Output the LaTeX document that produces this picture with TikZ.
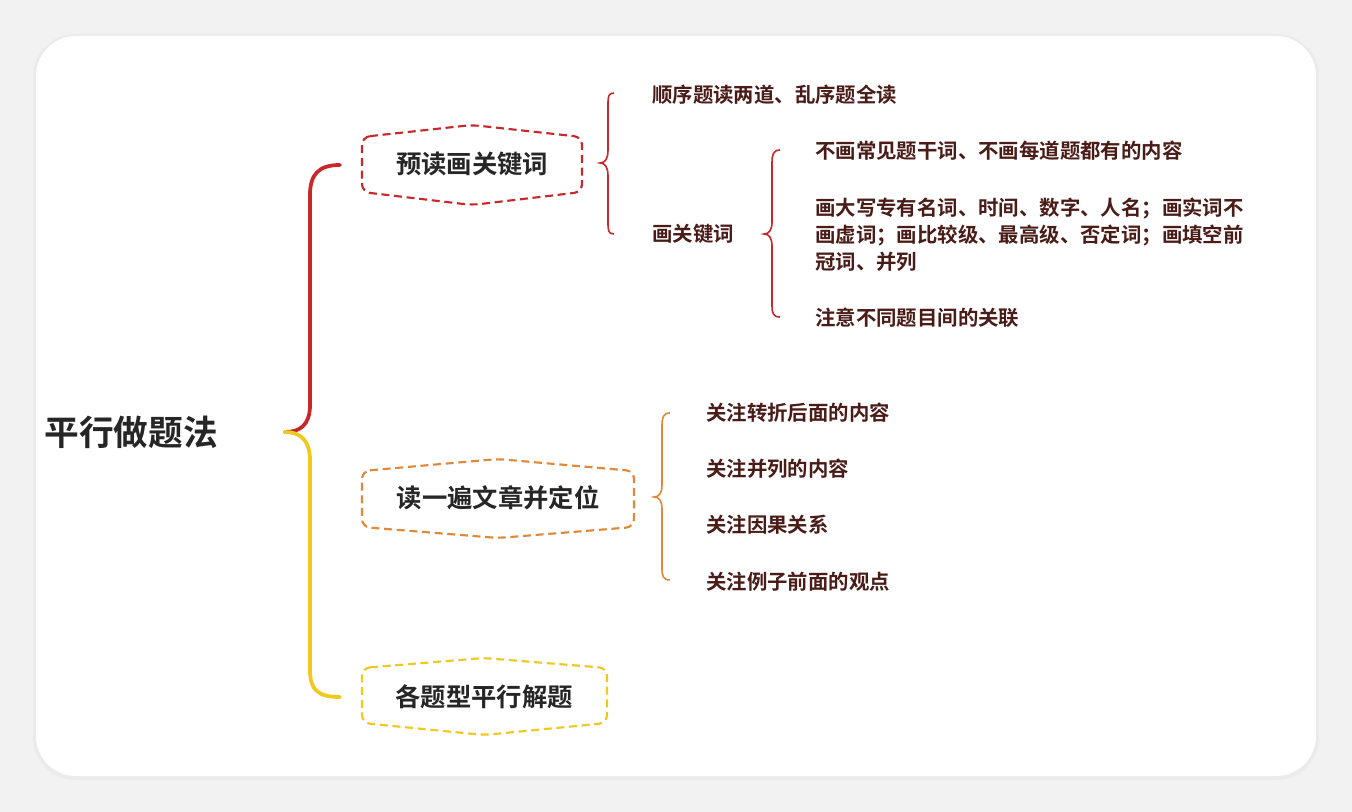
\documentclass[tikz,border=0pt]{standalone}
\usepackage{fontspec}
\setmainfont{Noto Sans CJK SC}
\newfontfamily\cjkb{Noto Sans CJK SC Bold}
\definecolor{cred}{HTML}{C8282A}
\definecolor{corange}{HTML}{E0883A}
\definecolor{cyellow}{HTML}{F0C81E}
\definecolor{ctext}{HTML}{4A1C18}
\begin{document}
\begin{tikzpicture}[x=0.75pt,y=-0.75pt,
  leaf/.style={anchor=west,inner sep=0pt,text=ctext,font=\cjkb\fontsize{15.3}{20.3}\selectfont,align=left},
  hexbox/.style={dashed,line width=1.6pt,dash pattern=on 6pt off 3.5pt,rounded corners=6pt},
  hextext/.style={font=\cjkb\fontsize{19}{22}\selectfont,text=black!85},
  brc/.style={line width=1.2pt},
  mainbr/.style={line width=2.8pt,line cap=round}]
\useasboundingbox (0,0) rectangle (1352,812);
\fill[gray!10] (0,0) rectangle (1352,812);
\fill[gray!16,rounded corners=32pt] (33,34) rectangle (1319,780);
\fill[white,rounded corners=30pt] (36,36) rectangle (1316,776);
% root
\node[font=\cjkb\fontsize{26}{30}\selectfont,text=black!85] (root) at (131,432) {平行做题法};
% main brace
\coordinate (mb) at (285,432);
\draw[mainbr,cred] (340,165) .. controls (318,165) and (310,175) .. (310,195) -- (310,405) .. controls (310,425) and (300,432) .. (mb);
\draw[mainbr,cyellow] (mb) .. controls (300,432) and (310,440) .. (310,460) -- (310,670) .. controls (310,690) and (318,697) .. (340,697);
% nodes
\draw[hexbox,cred] (362,137) -- (472,125) -- (582,137) -- (582,192) -- (472,205) -- (362,192) -- cycle;
\node[hextext] (n1) at (472,164) {预读画关键词};
\draw[hexbox,corange] (362,471) -- (498,459) -- (634,471) -- (634,527) -- (498,538) -- (362,527) -- cycle;
\node[hextext] (n2) at (498,498) {读一遍文章并定位};
\draw[hexbox,cyellow] (362,668) -- (484,658) -- (607,668) -- (607,723) -- (484,735) -- (362,723) -- cycle;
\node[hextext] (n3) at (484,697) {各题型平行解题};
% brace 1
\draw[brc,cred] (614,93) .. controls (608,93) and (608,97) .. (608,105) -- (608,150) .. controls (608,159) and (605,163) .. (600,163) .. controls (605,163) and (608,167) .. (608,176) -- (608,222) .. controls (608,230) and (608,234) .. (614,234);
\node[leaf] (a1) at (652,95) {顺序题读两道、乱序题全读};
\node[leaf] (a2) at (652,234) {画关键词};
% brace 2
\draw[brc,cred] (780,150) .. controls (773,150) and (772,155) .. (772,163) -- (772,222) .. controls (772,230) and (769,234) .. (764,234) .. controls (769,234) and (772,238) .. (772,246) -- (772,305) .. controls (772,313) and (773,317) .. (780,317);
\node[leaf] (b1) at (815,151) {不画常见题干词、不画每道题都有的内容};
\node[leaf] (b2) at (815,235) {画大写专有名词、时间、数字、人名；画实词不\\画虚词；画比较级、最高级、否定词；画填空前\\冠词、并列};
\node[leaf] (b3) at (815,318) {注意不同题目间的关联};
% brace 3
\draw[brc,corange] (670,413) .. controls (663,413) and (662,418) .. (662,426) -- (662,485) .. controls (662,493) and (659,497) .. (654,497) .. controls (659,497) and (662,501) .. (662,509) -- (662,568) .. controls (662,576) and (663,580) .. (670,580);
\node[leaf] (c1) at (706,413) {关注转折后面的内容};
\node[leaf] (c2) at (706,469) {关注并列的内容};
\node[leaf] (c3) at (706,525) {关注因果关系};
\node[leaf] (c4) at (706,582) {关注例子前面的观点};
\end{tikzpicture}
\end{document}
